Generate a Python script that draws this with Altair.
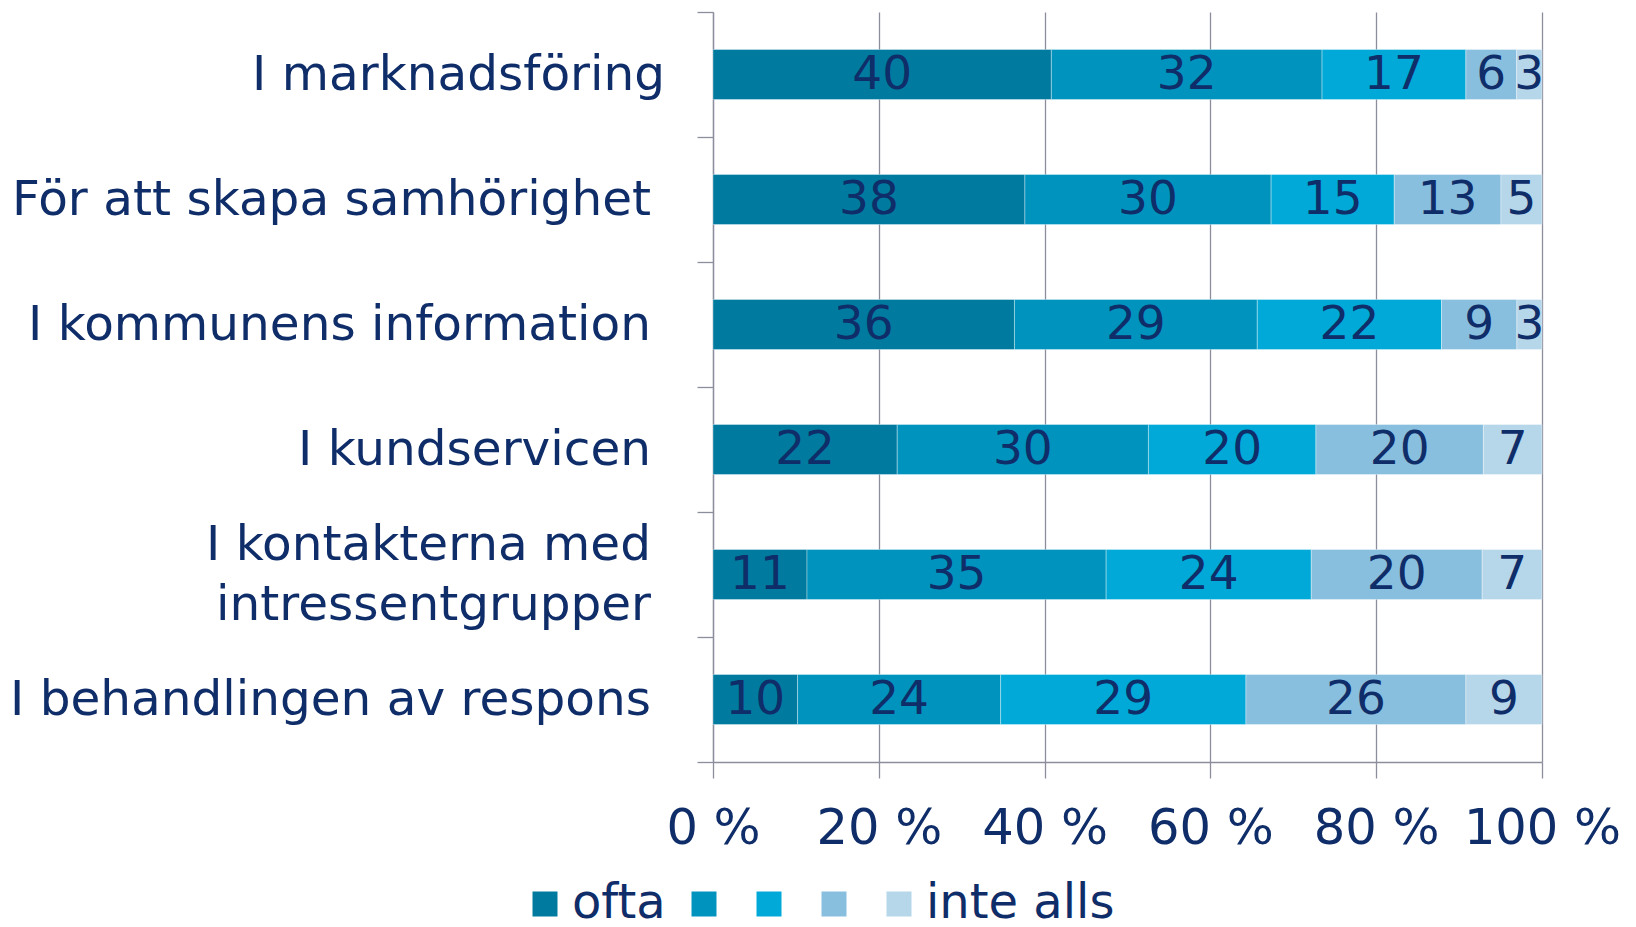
import altair as alt
import pandas as pd

categories = [
    "I marknadsföring",
    "För att skapa samhörighet",
    "I kommunens information",
    "I kundservicen",
    "I kontakterna med|intressentgrupper ",
    "I behandlingen av respons",
]
levels = ["ofta", "2", "3", "4", "inte alls"]
v_ofta = [40, 38, 36, 22, 11, 10]
v_2 = [32, 30, 29, 30, 35, 24]
v_3 = [17, 15, 22, 20, 24, 29]
v_4 = [6, 13, 9, 20, 20, 26]
v_inte = [3, 5, 3, 7, 7, 9]
x_ticks = [0, 0.2, 0.4, 0.6, 0.8, 1.0]
colors = ["#007b9f", "#0093be", "#00a9d7", "#88bfdf", "#b6d6ea"]

NAVY = "#0f2d69"
GRID = "#8c8e9e"
FONT = "DejaVu Sans"

series = [v_ofta, v_2, v_3, v_4, v_inte]
rows = []
for li, (lev, vals) in enumerate(zip(levels, series)):
    for ci, cat in enumerate(categories):
        rows.append({"category": cat, "level": lev, "order": li, "value": vals[ci]})
df = pd.DataFrame(rows)
cat_df = pd.DataFrame({"category": categories})

y_scale = alt.Scale(paddingInner=0, paddingOuter=0)

base = alt.Chart(df).transform_stack(
    stack="value",
    as_=["x0", "x1"],
    groupby=["category"],
    sort=[alt.SortField("order", order="ascending")],
    offset="normalize",
).transform_calculate(mid="(datum.x0 + datum.x1) / 2")

y_enc = alt.Y(
    "category:N",
    sort=categories,
    scale=y_scale,
    axis=alt.Axis(
        title=None,
        labels=False,
        tickBand="extent",
        tickSize=16,
        tickColor=GRID,
        tickWidth=1.3,
        domainColor=GRID,
        domainWidth=1.3,
        grid=False,
    ),
)

bars = base.mark_bar(size=50, stroke="white", strokeWidth=0.7, strokeOpacity=0.5).encode(
    y=y_enc,
    x=alt.X(
        "x0:Q",
        scale=alt.Scale(domain=[0, 1], nice=False),
        axis=alt.Axis(
            title=None,
            values=x_ticks,
            labelExpr="format(datum.value * 100, 'd') + ' %'",
            labelFont=FONT,
            labelFontSize=49.5,
            labelColor=NAVY,
            labelPadding=26,
            labelFlush=False,
            labelOverlap=False,
            tickSize=16,
            tickColor=GRID,
            tickWidth=1.3,
            domainColor=GRID,
            domainWidth=1.3,
            grid=True,
            gridColor=GRID,
            gridWidth=1.3,
        ),
    ),
    x2="x1:Q",
    color=alt.Color(
        "level:N",
        scale=alt.Scale(domain=levels, range=colors),
        legend=alt.Legend(
            title=None,
            orient="none",
            direction="horizontal",
            legendX=-192,
            legendY=868,
            padding=0,
            symbolType="square",
            symbolSize=625,
            symbolStrokeWidth=0,
            symbolOpacity=1,
            labelExpr="(datum.label == 'ofta' || datum.label == 'inte alls') ? datum.label : ''",
            labelFont=FONT,
            labelFontSize=48,
            labelColor=NAVY,
            labelOffset=3,
            columnPadding=14,
            labelLimit=400,
        ),
    ),
)

values_text = base.mark_text(
    font=FONT, fontSize=47, color=NAVY, align="center", baseline="middle"
).encode(
    y=alt.Y("category:N", sort=categories),
    x=alt.X("mid:Q"),
    text=alt.Text("value:Q"),
)

label_base = alt.Chart(cat_df)
label_kw = dict(font=FONT, fontSize=48.5, color=NAVY, align="right", baseline="middle",
                lineBreak="|", lineHeight=60)

labels_plain = label_base.transform_filter(
    "datum.category != 'I marknadsföring' && indexof(datum.category, '|') < 0"
).mark_text(**label_kw).encode(
    y=alt.Y("category:N", sort=categories),
    x=alt.value(-62),
    text="category:N",
)
labels_first = label_base.transform_filter(
    "datum.category == 'I marknadsföring'"
).mark_text(**label_kw).encode(
    y=alt.Y("category:N", sort=categories),
    x=alt.value(-48),
    text="category:N",
)
labels_multi = label_base.transform_filter(
    "indexof(datum.category, '|') >= 0"
).mark_text(dy=-30, **label_kw).encode(
    y=alt.Y("category:N", sort=categories),
    x=alt.value(-62),
    text="category:N",
)

chart = (
    alt.layer(bars, values_text, labels_plain, labels_first, labels_multi)
    .properties(
        width=829,
        height=750,
        padding={"left": 705, "top": 4, "right": 78, "bottom": 157},
        autosize=alt.AutoSizeParams(type="none"),
    )
    .configure_view(stroke=None)
)

chart.save("out.html", embed_options={"renderer": "svg", "actions": False})
